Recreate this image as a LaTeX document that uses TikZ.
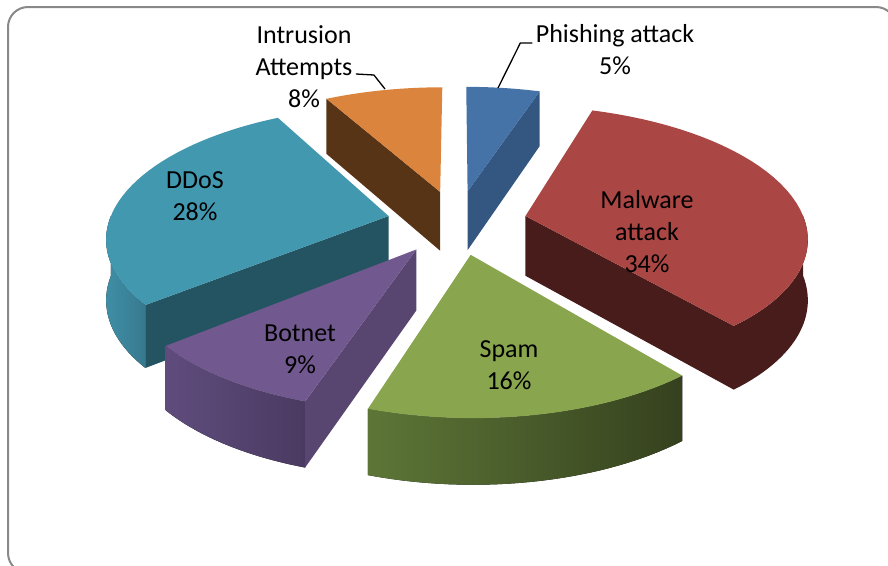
\documentclass[tikz,border=0pt]{standalone}
\usepackage{fontspec}
\setmainfont{Carlito}
\usetikzlibrary{positioning}

\definecolor{phishtop}{HTML}{4572A7}
\definecolor{phishside}{HTML}{345782}
\definecolor{malwtop}{HTML}{AA4643}
\definecolor{malwside}{HTML}{481C1A}
\definecolor{spamtop}{HTML}{89A54E}
\definecolor{spamrimL}{HTML}{5D7637}
\definecolor{spamrimR}{HTML}{35411E}
\definecolor{bottop}{HTML}{71588F}
\definecolor{botside}{HTML}{584671}
\definecolor{botrimL}{HTML}{5F4C7D}
\definecolor{botrimR}{HTML}{4A3A61}
\definecolor{ddostop}{HTML}{4198AF}
\definecolor{ddosside}{HTML}{245461}
\definecolor{ddosrimL}{HTML}{3F8EA6}
\definecolor{ddosrimR}{HTML}{37798E}
\definecolor{introtop}{HTML}{DB843D}
\definecolor{introside}{HTML}{583416}
\definecolor{framegray}{HTML}{898989}

% apex of the slice from #1 to #2 (degrees clockwise from 12 o'clock)
\newcommand\apex[2]{%
  \pgfmathsetmacro\ua{0.251*sin((#1+#2)/2)}%
  \pgfmathsetmacro\wa{0.251*cos((#1+#2)/2)}}

% top of a slice
\newcommand\topface[3]{\apex{#1}{#2}
  \fill[#3] ({projx(\ua,\wa)},{projy(\ua,\wa)})
    -- plot[domain=#1:#2,samples=40,variable=\x]
    ({projx(\ua+sin(\x),\wa+cos(\x))},{projy(\ua+sin(\x),\wa+cos(\x))}) -- cycle;}

% round outside of a slice, from #3 to #4
\newcommand\rimface[5]{\apex{#1}{#2}
  \fill[#5] plot[domain=#3:#4,samples=30,variable=\x]
    ({projx(\ua+sin(\x),\wa+cos(\x))},{projy(\ua+sin(\x),\wa+cos(\x))})
    -- plot[domain=#4:#3,samples=30,variable=\x]
    ({projx(\ua+sin(\x),\wa+cos(\x))},{projy(\ua+sin(\x),\wa+cos(\x))+slabh(\wa+cos(\x))})
    -- cycle;}

% flat cut of a slice along #3
\newcommand\cutface[4]{\apex{#1}{#2}
  \fill[#4] ({projx(\ua,\wa)},{projy(\ua,\wa)})
    -- ({projx(\ua+sin(#3),\wa+cos(#3))},{projy(\ua+sin(#3),\wa+cos(#3))})
    -- ({projx(\ua+sin(#3),\wa+cos(#3))},{projy(\ua+sin(#3),\wa+cos(#3))+slabh(\wa+cos(#3))})
    -- ({projx(\ua,\wa)},{projy(\ua,\wa)+slabh(\wa)}) -- cycle;}

\begin{document}
\begin{tikzpicture}[x=1pt,y=-1pt,
  declare function={
    projx(\u,\w)=457+279.6*\u/(1+0.148*\w);
    projy(\u,\w)=222-128.3*\w/(1+0.148*\w);
    slabh(\w)=60/(1+0.08*\w);
  },
  lbl/.style={align=center,text=black,font=\fontsize{26}{32}\selectfont},
  leader/.style={black,line width=1.3}]

\path[use as bounding box] (0,0) rectangle (888,565);
\clip (0,0) rectangle (888,565);
\draw[framegray,line width=2,rounded corners=20] (8,7) rectangle (896,573);

% back slices
\cutface{331.2}{360}{331.2}{introside}
\topface{331.2}{360}{introtop}
\cutface{0}{18}{18}{phishside}
\topface{0}{18}{phishtop}

% middle slices
\rimface{230.4}{331.2}{230.4}{270}{left color=ddosrimL,right color=ddosrimR}
\cutface{230.4}{331.2}{230.4}{ddosside}
\topface{230.4}{331.2}{ddostop}
\rimface{18}{140.4}{90}{140.4}{malwside}
\cutface{18}{140.4}{140.4}{malwside}
\topface{18}{140.4}{malwtop}

% front slices
\rimface{198}{230.4}{198}{230.4}{left color=botrimL,right color=botrimR}
\cutface{198}{230.4}{198}{botside}
\topface{198}{230.4}{bottop}
\rimface{140.4}{198}{140.4}{198}{left color=spamrimL,right color=spamrimR}
\topface{140.4}{198}{spamtop}

% labels
\node[lbl] (intr) at (304,67) {Intrusion\\Attempts\\8\%};
\node[lbl] (phish) at (615,50) {Phishing attack\\5\%};
\node[lbl] (ddos) at (195,196) {DDoS\\28\%};
\node[lbl] (malw) at (647,232) {Malware\\attack\\34\%};
\node[lbl] (bot) at (300,349) {Botnet\\9\%};
\node[lbl] (spam) at (509,365) {Spam\\16\%};

\coordinate (phtip) at (498,88);
\coordinate (intip) at (385,89);
\draw[leader] ([yshift=7]phish.west) -- ++(-12,0) -- (phtip);
\draw[leader] ([yshift=-7]intr.east) -- ++(18,1) -- (intip);

\end{tikzpicture}
\end{document}
